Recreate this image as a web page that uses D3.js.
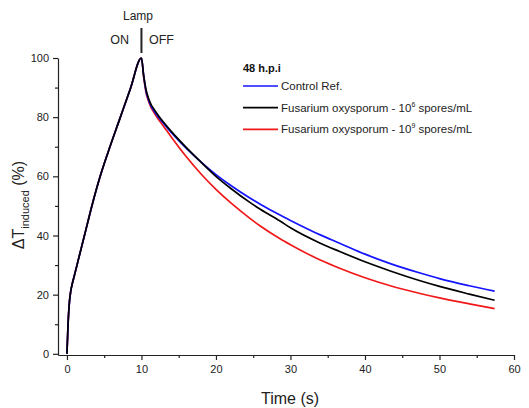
<!DOCTYPE html>
<html>
<head>
<meta charset="utf-8">
<script src="https://cdn.jsdelivr.net/npm/d3@7"></script>
<style>
  body { margin: 0; background: #fff; }
  svg { font-family: "Liberation Sans", Arial, sans-serif; }
  .axis path, .axis line { stroke: #222; stroke-width: 1.2; }
  .axis text { font-size: 11px; fill: #222; }
</style>
</head>
<body>
<svg id="chart"></svg>
<script>
// time (s) and induced temperature (%)
const riseTime = [0, 0.15, 0.3, 0.5, 0.7, 1, 1.5, 2.4, 3.4, 4.4, 5.5, 7.1, 8.5, 10];
const riseVal  = [0, 10, 16.5, 21, 23.5, 26.5, 31.5, 40.5, 50.5, 59.5, 68, 79.5, 89.5, 100];

const decayTime = [10.3, 10.6, 11, 12, 13, 14, 16, 18, 20, 22, 24.6, 26, 28.6, 30, 34, 36.6, 40, 43.4, 47.4, 50, 54, 57.4];
const controlDecay = [94, 89, 85.5, 81, 77.8, 74.8, 69.5, 64.8, 60.6, 56.9, 52.6, 50.5, 46.9, 45.1, 40.2, 37.4, 33.7, 30.5, 27.3, 25.4, 23.0, 21.2];
const spores6Decay = [94, 89.5, 86, 81.5, 78.2, 75.2, 69.8, 64.8, 60, 55.9, 51.1, 48.8, 44.9, 42.6, 37.4, 34.6, 31.1, 28.0, 24.7, 22.8, 20.2, 18.1];
const spores9Decay = [93.5, 88.5, 85, 80.3, 76.8, 73.3, 66.7, 60.8, 55.6, 51, 45.7, 43.1, 38.9, 36.9, 31.7, 28.9, 25.7, 23.0, 20.4, 18.9, 16.9, 15.3];

const seriesNames = ["Control Ref.", "Fusarium oxysporum - 10", "Fusarium oxysporum - 10"];
const seriesExp = ["", "6", "9"];
const seriesColors = ["#1414ff", "#000000", "#f01818"];

const xTicks = [0, 10, 20, 30, 40, 50, 60];
const xMinor = [5, 15, 25, 35, 45, 55];
const yTicks = [0, 20, 40, 60, 80, 100];
const yMinor = [10, 30, 50, 70, 90];

const W = 529, H = 408;
const svg = d3.select("#chart").attr("width", W).attr("height", H);

const x = d3.scaleLinear().domain([-1.2, 60]).range([58, 514]);
const y = d3.scaleLinear().domain([-0.4, 100]).range([355, 58]);

const toPoints = decay => riseTime.map((t, i) => [t, riseVal[i]])
  .concat(decayTime.map((t, i) => [t, decay[i]]));

const series = [
  {name: seriesNames[0], exp: seriesExp[0], color: seriesColors[0], pts: toPoints(controlDecay)},
  {name: seriesNames[1], exp: seriesExp[1], color: seriesColors[1], pts: toPoints(spores6Decay)},
  {name: seriesNames[2], exp: seriesExp[2], color: seriesColors[2], pts: toPoints(spores9Decay)}
];

// axes
svg.append("g").attr("class", "axis")
  .attr("transform", `translate(0,${y(-0.4)})`)
  .call(d3.axisBottom(x).tickValues(xTicks).tickSize(5).tickPadding(5).tickSizeOuter(0));
svg.append("g").attr("class", "axis")
  .attr("transform", `translate(0,${y(-0.4)})`)
  .call(d3.axisBottom(x).tickValues(xMinor).tickSize(3).tickFormat("").tickSizeOuter(0))
  .select(".domain").remove();

svg.append("g").attr("class", "axis")
  .attr("transform", `translate(${x(-1.2)},0)`)
  .call(d3.axisLeft(y).tickValues(yTicks).tickSize(5).tickPadding(4).tickSizeOuter(0));
svg.append("g").attr("class", "axis")
  .attr("transform", `translate(${x(-1.2)},0)`)
  .call(d3.axisLeft(y).tickValues(yMinor).tickSize(3).tickFormat("").tickSizeOuter(0))
  .select(".domain").remove();

// lines: red first, then blue, black on top
const line = d3.line().x(d => x(d[0])).y(d => y(d[1])).curve(d3.curveMonotoneX);
[2, 0, 1].forEach(i => {
  svg.append("path")
    .datum(series[i].pts)
    .attr("fill", "none")
    .attr("stroke", series[i].color)
    .attr("stroke-width", 1.7)
    .attr("stroke-linejoin", "round")
    .attr("d", line);
});

// lamp annotation
svg.append("text").attr("x", 138).attr("y", 20).attr("text-anchor", "middle")
  .style("font-size", "12px").attr("fill", "#222").text("Lamp");
svg.append("text").attr("x", 129).attr("y", 44).attr("text-anchor", "end")
  .style("font-size", "12.5px").attr("fill", "#222").text("ON");
svg.append("text").attr("x", 149).attr("y", 44)
  .style("font-size", "12.5px").attr("fill", "#222").text("OFF");
svg.append("line").attr("x1", x(10)).attr("x2", x(10)).attr("y1", 28).attr("y2", 53)
  .attr("stroke", "#222").attr("stroke-width", 2);

// legend
const lg = svg.append("g").attr("transform", "translate(243,0)");
lg.append("text").attr("x", 0).attr("y", 72).style("font-size", "11px")
  .style("font-weight", "bold").attr("fill", "#111").text("48 h.p.i");
series.forEach((s, i) => {
  const ly = 86 + i * 21.7;
  lg.append("line").attr("x1", 0).attr("x2", 35).attr("y1", ly).attr("y2", ly)
    .attr("stroke", s.color).attr("stroke-width", 1.7);
  const t = lg.append("text").attr("x", 38).attr("y", ly + 4)
    .style("font-size", "11.5px").attr("fill", "#222");
  t.append("tspan").text(s.name);
  if (s.exp) {
    t.append("tspan").attr("dy", -5).style("font-size", "7px").text(s.exp);
    t.append("tspan").attr("dy", 5).text(" spores/mL");
  }
});

// axis titles
svg.append("text").attr("x", 290).attr("y", 404).attr("text-anchor", "middle")
  .style("font-size", "16px").attr("fill", "#222").text("Time (s)");

const yl = svg.append("text").attr("transform", "translate(24,205) rotate(-90)")
  .attr("text-anchor", "middle").attr("fill", "#222").style("font-size", "16px");
yl.append("tspan").text("ΔT");
yl.append("tspan").attr("dy", 5).style("font-size", "11px").text("induced");
yl.append("tspan").attr("dy", -5).text(" (%)");
</script>
</body>
</html>
